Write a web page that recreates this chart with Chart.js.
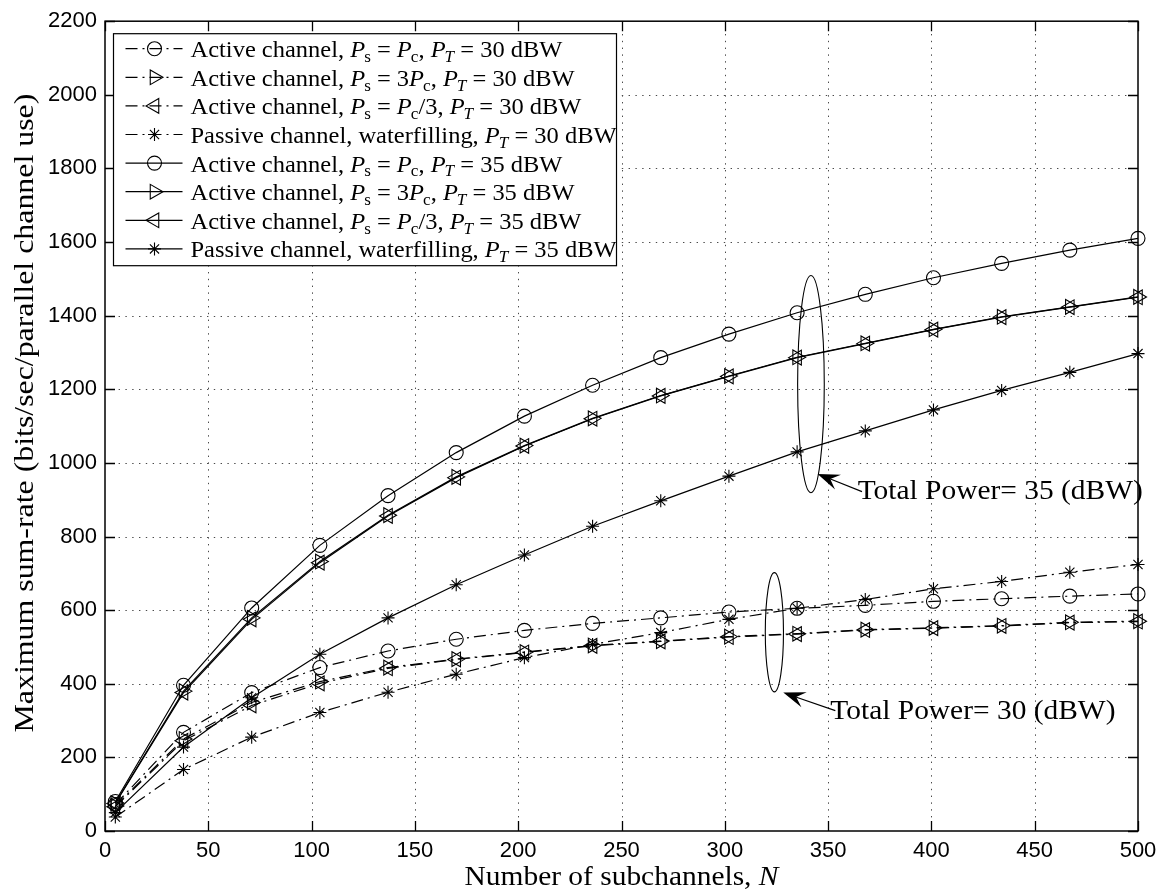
<!DOCTYPE html>
<html>
<head>
<meta charset="utf-8">
<title>Maximum sum-rate vs number of subchannels</title>
<script src="https://cdn.jsdelivr.net/npm/chart.js@4.4.1/dist/chart.umd.min.js"></script>
<style>
  html, body { margin: 0; padding: 0; background: #ffffff; }
  #wrap { width: 1166px; height: 895px; }
</style>
</head>
<body>
<div id="wrap"><canvas id="chart" width="1166" height="895"></canvas></div>
<script>
// Number of subchannels N (x values shared by every curve)
const subchannels = [5, 38, 71, 104, 137, 170, 203, 236, 269, 302, 335, 368, 401, 434, 467, 500];

// Sum-rate, total power 30 dBW
const activeEq30   = [72, 268, 376, 444, 489, 521, 545, 564, 579, 595, 605, 613, 624, 631, 638, 644];
const active3Pc30  = [68, 250, 349, 406, 444, 467, 486, 504, 516, 528, 536, 547, 552, 558, 567, 570];
const activePc3_30 = [66, 245, 341, 401, 442, 466, 485, 503, 515, 527, 535, 546, 551, 557, 566, 569];
const passive30    = [38, 167, 255, 322, 377, 426, 471, 507, 539, 575, 605, 629, 658, 678, 703, 724];

// Sum-rate, total power 35 dBW
const activeEq35   = [80, 396, 606, 776, 911, 1028, 1127, 1211, 1286, 1350, 1408, 1458, 1503, 1542, 1578, 1610];
const active3Pc35  = [76, 380, 579, 732, 858, 962, 1047, 1121, 1183, 1236, 1287, 1325, 1363, 1397, 1424, 1451];
const activePc3_35 = [75, 376, 575, 729, 856, 960, 1046, 1120, 1182, 1235, 1286, 1324, 1362, 1396, 1423, 1450];
const passive35    = [50, 228, 362, 480, 579, 669, 750, 828, 897, 964, 1030, 1087, 1144, 1197, 1246, 1297];

// Series names ($...$ marks inline math: italic symbol, optional subscript)
const seriesNames = [
  'Active channel, $P_s$ = $P_c$, $P_T$ = 30 dBW',
  'Active channel, $P_s$ = 3$P_c$, $P_T$ = 30 dBW',
  'Active channel, $P_s$ = $P_c$/3, $P_T$ = 30 dBW',
  'Passive channel, waterfilling, $P_T$ = 30 dBW',
  'Active channel, $P_s$ = $P_c$, $P_T$ = 35 dBW',
  'Active channel, $P_s$ = 3$P_c$, $P_T$ = 35 dBW',
  'Active channel, $P_s$ = $P_c$/3, $P_T$ = 35 dBW',
  'Passive channel, waterfilling, $P_T$ = 35 dBW'
];

const xTicks = { min: 0, max: 500, step: 50 };
const yTicks = { min: 0, max: 2200, step: 200 };

const xTitle = 'Number of subchannels, $N$';
const yTitle = 'Maximum sum-rate (bits/sec/parallel channel use)';
const note35 = 'Total Power= 35 (dBW)';
const note30 = 'Total Power= 30 (dBW)';

// ---------------------------------------------------------------------------
const SERIF = '"Liberation Serif", "Times New Roman", serif';
const DASHDOT = [12, 5, 2, 5];

function parseRich(str) {
  const segs = [];
  str.split(/(\$[^$]+\$)/).forEach(part => {
    if (!part) return;
    if (part[0] === '$') {
      const body = part.slice(1, -1);
      const [base, sub] = body.split('_');
      segs.push({ t: base, it: true });
      if (sub) segs.push({ t: sub, sub: true, it: sub === sub.toUpperCase() });
    } else {
      segs.push({ t: part });
    }
  });
  return segs;
}
const plain = s => s.replace(/\$/g, '').replace(/_/g, '');

// Serif text with italic symbols and subscripts, horizontally widened by `stretch`
function drawRich(ctx, str, x, y, size, stretch, align) {
  const segs = parseRich(str);
  ctx.save();
  ctx.textBaseline = 'alphabetic';
  ctx.textAlign = 'left';
  const fontOf = s => (s.it ? 'italic ' : '') + (s.sub ? size * 0.7 : size) + 'px ' + SERIF;
  const widths = segs.map(s => { ctx.font = fontOf(s); return ctx.measureText(s.t).width; });
  const w = widths.reduce((p, v) => p + v, 0);
  const start = align === 'center' ? x - w * stretch / 2 : x;
  ctx.translate(start, y);
  ctx.scale(stretch, 1);
  let cx = 0;
  segs.forEach((s, i) => {
    ctx.font = fontOf(s);
    ctx.fillText(s.t, s.sub ? cx - 1 : cx, s.sub ? size * 0.2 : 0);
    cx += widths[i] - (s.sub ? 1 : 0);
  });
  ctx.restore();
}

function drawMarker(ctx, style, r, rot, x, y) {
  ctx.beginPath();
  if (style === 'circle') {
    ctx.arc(x, y, r, 0, Math.PI * 2);
  } else if (style === 'triangle') {
    let a = rot * Math.PI / 180;
    ctx.moveTo(x + Math.sin(a) * r, y - Math.cos(a) * r);
    a += 2 * Math.PI / 3;
    ctx.lineTo(x + Math.sin(a) * r, y - Math.cos(a) * r);
    a += 2 * Math.PI / 3;
    ctx.lineTo(x + Math.sin(a) * r, y - Math.cos(a) * r);
    ctx.closePath();
  } else if (style === 'star') {
    for (let k = 0; k < 4; k++) {
      const a = k * Math.PI / 4;
      ctx.moveTo(x - Math.cos(a) * r, y - Math.sin(a) * r);
      ctx.lineTo(x + Math.cos(a) * r, y + Math.sin(a) * r);
    }
  }
  ctx.stroke();
}

function series(idx, values, style, radius, rotation, dashed) {
  return {
    label: plain(seriesNames[idx]),
    richLabel: seriesNames[idx],
    data: subchannels.map((n, i) => ({ x: n, y: values[i] })),
    borderColor: '#000',
    borderWidth: 1.2,
    borderDash: dashed ? DASHDOT : [],
    backgroundColor: 'rgba(0,0,0,0)',
    pointStyle: style,
    pointRadius: radius,
    pointRotation: rotation,
    pointBorderColor: '#000',
    pointBorderWidth: 1.1,
    pointBackgroundColor: 'rgba(0,0,0,0)',
    tension: 0,
    clip: false
  };
}

const datasets = [
  series(0, activeEq30,   'circle',   7,   0,   true),
  series(1, active3Pc30,  'triangle', 8.5, 90,  true),
  series(2, activePc3_30, 'triangle', 8.5, -90, true),
  series(3, passive30,    'star',     6.5, 0,   true),
  series(4, activeEq35,   'circle',   7,   0,   false),
  series(5, active3Pc35,  'triangle', 8.5, 90,  false),
  series(6, activePc3_35, 'triangle', 8.5, -90, false),
  series(7, passive35,    'star',     6.5, 0,   false)
];

// Callout ellipses and arrows, in data units
const callouts = [
  { cx: 341.7, cy: 1214, rx: 6.45, ry: 295, tip: [344.9, 970], tail: [366.4, 922], textAt: [364.3, 901], text: note35 },
  { cx: 324.0, cy: 540,  rx: 4.4,  ry: 162, tip: [328.3, 376], tail: [353.5, 327], textAt: [351.1, 304], text: note30 }
];

const framePlugin = {
  id: 'frame',
  beforeDatasetsDraw(chart) {
    const { ctx, chartArea: a, scales: { x, y } } = chart;
    ctx.save();
    ctx.strokeStyle = '#4a4a4a';
    ctx.lineWidth = 1;
    ctx.setLineDash([1.4, 5.4]);
    for (let v = xTicks.min + xTicks.step; v < xTicks.max; v += xTicks.step) {
      const px = Math.round(x.getPixelForValue(v)) + 0.5;
      ctx.beginPath(); ctx.moveTo(px, a.bottom); ctx.lineTo(px, a.top); ctx.stroke();
    }
    for (let v = yTicks.min + yTicks.step; v < yTicks.max; v += yTicks.step) {
      const py = Math.round(y.getPixelForValue(v)) + 0.5;
      ctx.beginPath(); ctx.moveTo(a.left, py); ctx.lineTo(a.right, py); ctx.stroke();
    }
    ctx.restore();
  },
  afterDatasetsDraw(chart) {
    const { ctx, chartArea: a, scales: { x, y } } = chart;
    ctx.save();
    ctx.strokeStyle = '#000';
    ctx.lineWidth = 1.3;
    ctx.setLineDash([]);
    const tl = 10;
    ctx.beginPath();
    for (let v = xTicks.min; v <= xTicks.max; v += xTicks.step) {
      const px = Math.round(x.getPixelForValue(v)) + 0.5;
      ctx.moveTo(px, a.bottom); ctx.lineTo(px, a.bottom - tl);
      ctx.moveTo(px, a.top); ctx.lineTo(px, a.top + tl);
    }
    for (let v = yTicks.min; v <= yTicks.max; v += yTicks.step) {
      const py = Math.round(y.getPixelForValue(v)) + 0.5;
      ctx.moveTo(a.left, py); ctx.lineTo(a.left + tl, py);
      ctx.moveTo(a.right, py); ctx.lineTo(a.right - tl, py);
    }
    ctx.stroke();
    ctx.lineWidth = 1.5;
    ctx.strokeRect(a.left, a.top, a.right - a.left, a.bottom - a.top);
    ctx.restore();
  },
  afterDraw(chart) {
    const { ctx, chartArea: a, scales: { x, y } } = chart;
    ctx.save();
    ctx.fillStyle = '#000';
    ctx.strokeStyle = '#000';

    // Axis titles
    drawRich(ctx, xTitle, (a.left + a.right) / 2, 885, 27, 1.09, 'center');
    ctx.save();
    ctx.translate(33, (a.top + a.bottom) / 2 - 13);
    ctx.rotate(-Math.PI / 2);
    drawRich(ctx, yTitle, 0, 0, 27, 1.18, 'center');
    ctx.restore();

    // Legend
    const lx = a.left + 8.5, ly = a.top + 12.5, lw = 503, lh = 232;
    ctx.fillStyle = '#fff';
    ctx.fillRect(lx, ly, lw, lh);
    ctx.lineWidth = 1.2;
    ctx.strokeStyle = '#000';
    ctx.strokeRect(lx, ly, lw, lh);
    ctx.fillStyle = '#000';
    const rowH = 28.6;
    chart.data.datasets.forEach((ds, i) => {
      const cy = ly + 15 + i * rowH;
      ctx.save();
      ctx.lineWidth = ds.borderWidth;
      ctx.setLineDash(ds.borderDash);
      ctx.beginPath();
      ctx.moveTo(lx + 12, cy); ctx.lineTo(lx + 69, cy);
      ctx.stroke();
      ctx.setLineDash([]);
      ctx.lineWidth = ds.pointBorderWidth;
      drawMarker(ctx, ds.pointStyle, ds.pointRadius, ds.pointRotation, lx + 41, cy);
      ctx.restore();
      drawRich(ctx, ds.richLabel, lx + 77, cy + 8.5, 24, 1.02);
    });

    // Callouts
    callouts.forEach(c => {
      const px = x.getPixelForValue(c.cx), py = y.getPixelForValue(c.cy);
      const rx = Math.abs(x.getPixelForValue(c.cx + c.rx) - px);
      const ry = Math.abs(y.getPixelForValue(c.cy + c.ry) - py);
      ctx.lineWidth = 1.1;
      ctx.setLineDash([]);
      ctx.beginPath();
      ctx.ellipse(px, py, rx, ry, 0, 0, Math.PI * 2);
      ctx.stroke();

      const tx = x.getPixelForValue(c.tip[0]), ty = y.getPixelForValue(c.tip[1]);
      const sx = x.getPixelForValue(c.tail[0]), sy = y.getPixelForValue(c.tail[1]);
      const len = Math.hypot(tx - sx, ty - sy);
      const ux = (tx - sx) / len, uy = (ty - sy) / len;
      const nx = -uy, ny = ux;
      const L = 22, W = 8;
      ctx.beginPath();
      ctx.moveTo(sx, sy);
      ctx.lineTo(tx - ux * L * 0.6, ty - uy * L * 0.6);
      ctx.stroke();
      ctx.beginPath();
      ctx.moveTo(tx, ty);
      ctx.lineTo(tx - ux * L + nx * W, ty - uy * L + ny * W);
      ctx.lineTo(tx - ux * L * 0.62, ty - uy * L * 0.62);
      ctx.lineTo(tx - ux * L - nx * W, ty - uy * L - ny * W);
      ctx.closePath();
      ctx.fill();

      drawRich(ctx, c.text, x.getPixelForValue(c.textAt[0]), y.getPixelForValue(c.textAt[1]), 27, 1.09);
    });
    ctx.restore();
  }
};

new Chart(document.getElementById('chart').getContext('2d'), {
  type: 'line',
  data: { datasets },
  options: {
    responsive: false,
    animation: false,
    devicePixelRatio: 1,
    layout: { padding: { left: 0, top: 16, right: 28, bottom: 0 } },
    plugins: { legend: { display: false }, tooltip: { enabled: false } },
    scales: {
      x: {
        type: 'linear',
        min: xTicks.min, max: xTicks.max,
        afterFit: s => { s.height = 64; },
        grid: { display: false, drawTicks: false },
        border: { display: false },
        ticks: {
          stepSize: xTicks.step, autoSkip: false, maxRotation: 0, padding: 7,
          callback: v => String(v),
          color: '#000', font: { family: '"Liberation Sans", Arial, sans-serif', size: 22 }
        }
      },
      y: {
        type: 'linear',
        min: yTicks.min, max: yTicks.max,
        afterFit: s => { s.width = 105; },
        grid: { display: false, drawTicks: false },
        border: { display: false },
        ticks: {
          stepSize: yTicks.step, padding: 8,
          callback: v => String(v),
          color: '#000', font: { family: '"Liberation Sans", Arial, sans-serif', size: 22 }
        }
      }
    }
  },
  plugins: [framePlugin]
});
</script>
</body>
</html>
